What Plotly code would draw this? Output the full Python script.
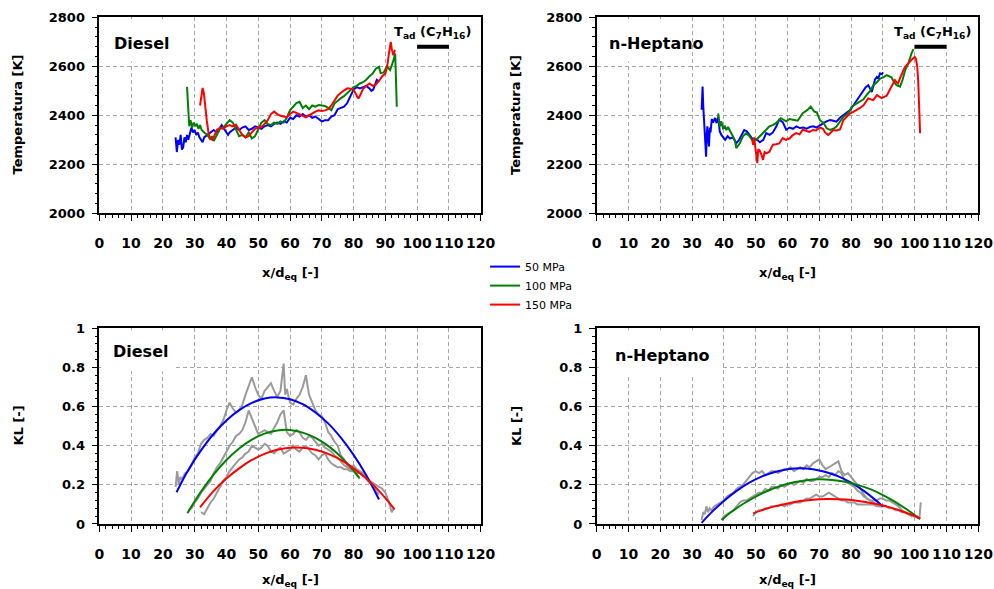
import plotly.graph_objects as go

# ---------------- Temperatura: Diesel ----------------
d50_x = [24.0, 24.4, 24.8, 25.2, 25.6, 26.0, 26.4, 26.8, 27.2, 27.6, 28.0, 28.5, 29.0, 29.5, 30.0, 30.5,
         31.0, 31.5, 32.0, 32.5, 33.0, 34.0, 35.0, 36.0, 37.0, 38.0, 38.5, 39.5, 40.5, 41.0, 42.0, 43.0,
         44.0, 45.0, 46.0, 47.0, 48.0, 49.0, 50.0, 51.0, 52.0, 53.0, 54.0, 55.0, 56.0, 57.0, 58.0, 59.0,
         60.0, 61.0, 62.0, 63.0, 64.0, 65.0, 66.0, 67.0, 68.0, 69.0, 70.0, 71.0, 72.0, 73.0, 74.0, 75.0,
         76.0, 77.0, 78.0, 79.0, 80.0, 81.0, 82.0, 83.0, 84.0, 85.0, 85.6, 86.2, 86.8, 87.3, 87.8]
d50_T = [2310, 2250, 2300, 2280, 2320, 2260, 2270, 2310, 2290, 2320, 2300, 2330, 2350, 2330, 2340, 2320,
         2330, 2310, 2300, 2290, 2310, 2320, 2330, 2340, 2330, 2350, 2360, 2340, 2320, 2330, 2340, 2350,
         2340, 2350, 2355, 2340, 2345, 2355, 2350, 2345, 2355, 2360, 2355, 2365, 2370, 2365, 2375, 2370,
         2390, 2385, 2400, 2395, 2405, 2395, 2400, 2390, 2395, 2385, 2375, 2380, 2380, 2395, 2400, 2425,
         2430, 2435, 2450, 2480, 2505, 2515, 2510, 2515, 2520, 2510, 2500, 2505, 2530, 2545, 2540]

d100_x = [27.6, 28.0, 28.3, 28.7, 29.2, 29.7, 30.2, 30.7, 31.2, 31.7, 32.2, 33.0, 34.0, 35.0, 35.5, 36.0,
          37.0, 38.0, 39.0, 40.0, 41.0, 42.0, 43.0, 44.0, 45.0, 46.0, 47.0, 48.0, 49.0, 50.0, 51.0, 52.0,
          53.0, 54.0, 55.0, 56.0, 57.0, 58.0, 59.0, 60.0, 61.0, 62.0, 63.0, 64.0, 65.0, 66.0, 67.0, 68.0,
          69.0, 70.0, 71.0, 72.0, 73.0, 74.0, 75.0, 76.0, 77.0, 78.0, 79.0, 80.0, 81.0, 82.0, 83.0, 84.0,
          85.0, 86.0, 87.0, 88.0, 88.5, 89.5, 90.5, 91.5, 92.5, 93.1, 93.6]
d100_T = [2516, 2400, 2355, 2380, 2350, 2370, 2355, 2365, 2345, 2360, 2340, 2330, 2320, 2300, 2315, 2295,
          2320, 2345, 2350, 2365, 2380, 2370, 2345, 2315, 2320, 2310, 2330, 2305, 2315, 2340, 2370, 2380,
          2365, 2360, 2370, 2365, 2375, 2370, 2390, 2420, 2435, 2450, 2455, 2430, 2440, 2425, 2440, 2435,
          2442, 2440, 2438, 2430, 2421, 2448, 2460, 2470, 2478, 2490, 2500, 2515, 2520, 2530, 2535, 2545,
          2560, 2570, 2590, 2598, 2572, 2575, 2600, 2585, 2622, 2652, 2435]

d150_x = [31.7, 32.2, 32.5, 32.9, 33.3, 33.8, 34.4, 35.0, 35.6, 36.2, 37.0, 38.0, 39.0, 40.0, 41.0, 42.0,
          43.0, 44.0, 45.0, 46.0, 47.0, 48.0, 49.0, 50.0, 51.0, 52.0, 53.0, 54.0, 55.0, 56.0, 57.0, 58.0,
          59.0, 60.0, 61.0, 62.0, 63.0, 64.0, 65.0, 66.0, 67.0, 68.0, 69.0, 70.0, 71.0, 72.0, 73.0, 74.0,
          75.0, 76.0, 77.0, 78.0, 79.0, 80.0, 81.0, 81.5, 82.0, 83.0, 84.0, 85.0, 86.0, 87.0, 88.0, 89.0,
          90.0, 90.6, 91.2, 91.7, 92.1, 92.5, 93.0]
d150_T = [2440, 2500, 2512, 2490, 2435, 2380, 2325, 2305, 2300, 2320, 2340, 2350, 2345, 2355, 2360, 2355,
          2362, 2340, 2320, 2310, 2315, 2330, 2345, 2350, 2352, 2365, 2380, 2405, 2415, 2405, 2398, 2395,
          2392, 2405, 2415, 2410, 2405, 2398, 2392, 2400, 2408, 2415, 2420, 2418, 2420, 2425, 2440, 2460,
          2480, 2492, 2500, 2510, 2508, 2505, 2480, 2468, 2480, 2508, 2520, 2530, 2520, 2525, 2540, 2560,
          2570, 2600, 2660, 2700, 2665, 2645, 2668]

# ---------------- Temperatura: n-Heptano ----------------
h50_x = [33.0, 33.3, 33.5, 33.7, 34.0, 34.4, 34.6, 34.8, 35.1, 35.3, 35.6, 35.8, 36.2, 36.6, 37.2, 37.7,
         38.2, 38.7, 39.2, 39.7, 40.4, 41.2, 41.9, 42.8, 43.9, 44.8, 45.6, 46.4, 47.2, 48.1, 49.2, 50.3,
         51.3, 52.4, 53.3, 54.4, 55.4, 56.5, 57.4, 58.5, 59.6, 60.6, 61.7, 62.8, 63.9, 65.0, 66.0, 67.0,
         68.1, 69.1, 70.2, 71.3, 72.3, 73.4, 74.4, 75.4, 76.5, 77.6, 78.6, 79.7, 80.7, 81.8, 82.8, 83.9,
         84.6, 85.4, 86.0, 86.5, 87.0, 87.5, 88.1, 88.6, 89.1, 89.6, 90.1]
h50_T = [2423, 2517, 2440, 2380, 2300, 2231, 2320, 2355, 2300, 2273, 2350, 2330, 2385, 2370, 2389, 2368,
         2395, 2334, 2320, 2310, 2300, 2315, 2305, 2310, 2286, 2300, 2320, 2340, 2335, 2318, 2300, 2302,
         2290, 2300, 2327, 2320, 2330, 2355, 2382, 2372, 2341, 2350, 2345, 2355, 2348, 2350, 2345, 2352,
         2355, 2350, 2360, 2368, 2375, 2381, 2378, 2374, 2390, 2401, 2410, 2421, 2440, 2462, 2480, 2503,
         2515, 2523, 2510, 2495, 2520, 2545, 2557, 2552, 2571, 2568, 2575]

h100_x = [38.2, 38.7, 39.2, 39.7, 40.3, 40.8, 41.3, 41.8, 42.3, 42.8, 43.4, 43.9, 44.5, 45.0, 46.0, 47.0,
          48.1, 49.2, 50.2, 51.3, 52.3, 53.3, 54.3, 55.4, 56.4, 57.9, 59.6, 60.6, 61.7, 63.2, 64.8, 66.3,
          67.3, 68.4, 69.2, 70.2, 71.3, 72.3, 73.4, 74.4, 75.4, 76.5, 77.6, 78.6, 79.7, 80.2, 81.3, 82.8,
          83.9, 84.9, 86.0, 87.0, 88.1, 89.1, 90.1, 91.2, 92.2, 92.7, 93.5, 94.3, 95.4, 96.2, 97.0, 98.0,
          99.0, 99.6]
h100_T = [2408, 2355, 2375, 2348, 2355, 2340, 2352, 2338, 2330, 2314, 2300, 2266, 2275, 2286, 2314, 2327,
          2314, 2293, 2300, 2314, 2325, 2341, 2355, 2360, 2368, 2388, 2375, 2385, 2382, 2378, 2409, 2422,
          2436, 2415, 2412, 2380, 2370, 2347, 2340, 2345, 2354, 2375, 2394, 2402, 2420, 2435, 2445, 2455,
          2465, 2483, 2500, 2523, 2535, 2550, 2555, 2564, 2560, 2555, 2535, 2523, 2517, 2545, 2585, 2612,
          2653, 2670]

h150_x = [48.9, 49.2, 49.5, 49.8, 50.2, 50.5, 50.8, 51.3, 51.8, 52.3, 52.8, 53.3, 54.3, 55.4, 56.4, 57.4,
          58.5, 59.5, 60.6, 61.6, 62.7, 63.8, 64.8, 65.9, 66.9, 68.0, 69.0, 70.2, 71.2, 71.8, 72.8, 73.4,
          74.4, 75.4, 76.5, 77.6, 78.6, 79.7, 80.7, 81.8, 82.8, 83.9, 84.6, 85.4, 86.2, 87.0, 88.1, 88.9,
          89.6, 90.4, 91.2, 92.0, 92.7, 93.3, 93.8, 94.3, 94.8, 95.4, 95.9, 96.5, 97.0, 97.7, 98.5, 99.1,
          99.6, 100.0, 100.4, 100.8, 101.1, 101.4, 101.7]
h150_T = [2300, 2280, 2310, 2273, 2232, 2205, 2262, 2255, 2240, 2218, 2250, 2245, 2250, 2280, 2282, 2285,
          2307, 2300, 2305, 2318, 2327, 2322, 2341, 2335, 2332, 2340, 2338, 2350, 2345, 2330, 2320, 2327,
          2340, 2338, 2342, 2381, 2395, 2408, 2414, 2421, 2430, 2441, 2452, 2469, 2465, 2462, 2482, 2476,
          2470, 2475, 2480, 2500, 2517, 2530, 2544, 2535, 2530, 2552, 2571, 2585, 2598, 2610, 2619, 2628,
          2632, 2638, 2630, 2598, 2540, 2450, 2327]

# Adiabatic flame temperature of C7H16
tad_x = [100, 110]
tad_T = [2680, 2680]

# ---------------- KL: Diesel (raw signals and fitted curves) ----------------
kd50_x = [24.0, 24.5, 25.0, 25.5, 26.0, 27.0, 28.0, 29.0, 30.0, 31.0, 32.0, 33.0, 34.0, 35.0, 36.0, 37.0,
          38.0, 39.0, 40.0, 41.0, 42.0, 43.0, 44.0, 45.0, 46.0, 47.0, 48.0, 49.0, 50.0, 51.0, 52.0, 53.0,
          54.0, 55.0, 56.0, 57.0, 58.0, 58.5, 59.0, 60.0, 61.0, 62.0, 63.0, 64.0, 65.0, 66.0, 67.0, 68.0,
          69.0, 70.0, 71.0, 72.0, 73.0, 74.0, 75.0, 76.0, 77.0, 78.0, 79.0, 80.0, 81.0, 82.0, 83.0, 84.0,
          85.0, 86.0, 87.0, 88.0]
kd50 = [0.19, 0.27, 0.20, 0.24, 0.23, 0.26, 0.27, 0.30, 0.34, 0.36, 0.41, 0.43, 0.44, 0.46, 0.45, 0.48,
        0.50, 0.53, 0.58, 0.62, 0.59, 0.57, 0.58, 0.61, 0.66, 0.70, 0.75, 0.70, 0.66, 0.64, 0.68, 0.70,
        0.72, 0.68, 0.65, 0.68, 0.82, 0.66, 0.69, 0.62, 0.61, 0.64, 0.66, 0.70, 0.76, 0.66, 0.62, 0.58,
        0.56, 0.55, 0.52, 0.47, 0.45, 0.42, 0.40, 0.35, 0.33, 0.30, 0.29, 0.30, 0.28, 0.27, 0.26, 0.23,
        0.21, 0.20, 0.17, 0.15]

kd100_x = [28, 29, 30, 31, 32, 33, 34, 35, 36, 37, 38, 39, 40, 41, 42, 43, 44, 45, 46, 47, 48, 49, 50, 51,
           52, 53, 54, 55, 56, 57, 58, 59, 60, 61, 62, 63, 64, 65, 66, 67, 68, 69, 70, 71, 72, 73, 74, 75,
           76, 77, 78, 79, 80, 81, 82]
kd100 = [0.07, 0.08, 0.11, 0.13, 0.16, 0.18, 0.20, 0.22, 0.26, 0.29, 0.31, 0.34, 0.37, 0.40, 0.42, 0.45,
         0.46, 0.48, 0.52, 0.58, 0.54, 0.50, 0.46, 0.47, 0.48, 0.47, 0.46, 0.49, 0.52, 0.56, 0.58, 0.47,
         0.45, 0.46, 0.48, 0.47, 0.44, 0.43, 0.45, 0.44, 0.42, 0.40, 0.41, 0.39, 0.38, 0.37, 0.35, 0.34,
         0.32, 0.30, 0.29, 0.28, 0.27, 0.25, 0.23]

kd150_x = [32, 33, 34, 35, 36, 37, 38, 39, 40, 41, 42, 43, 44, 45, 46, 47, 48, 49, 50, 51, 52, 53, 54, 55,
           56, 57, 58, 59, 60, 61, 62, 63, 64, 65, 66, 67, 68, 69, 70, 71, 72, 73, 74, 75, 76, 77, 78, 79,
           80, 81, 82, 83, 84, 85, 86, 87, 88, 89, 90, 91, 92, 92.7]
kd150 = [0.06, 0.05, 0.08, 0.11, 0.13, 0.16, 0.19, 0.22, 0.24, 0.27, 0.29, 0.31, 0.33, 0.34, 0.36, 0.37,
         0.40, 0.39, 0.38, 0.39, 0.41, 0.40, 0.37, 0.36, 0.38, 0.39, 0.36, 0.37, 0.38, 0.40, 0.38, 0.37,
         0.39, 0.40, 0.38, 0.36, 0.35, 0.33, 0.35, 0.36, 0.33, 0.31, 0.30, 0.29, 0.29, 0.28, 0.28, 0.27,
         0.27, 0.26, 0.26, 0.25, 0.24, 0.22, 0.21, 0.20, 0.19, 0.18, 0.16, 0.12, 0.06, 0.08]

fd50_x = [24.3, 28, 32, 36, 40, 44, 48, 52, 56, 60, 64, 68, 72, 76, 80, 84, 88]
fd50 = [0.162, 0.276, 0.376, 0.461, 0.529, 0.582, 0.619, 0.641, 0.647, 0.637, 0.612, 0.570, 0.514, 0.441,
        0.353, 0.249, 0.125]
fd100_x = [27.7, 32, 36, 40, 44, 48, 52, 56, 60, 64, 68, 72, 76, 80, 81.8]
fd100 = [0.055, 0.165, 0.253, 0.327, 0.386, 0.431, 0.462, 0.478, 0.480, 0.467, 0.440, 0.399, 0.343, 0.273,
         0.236]
fd150_x = [31.7, 36, 40, 44, 48, 52, 56, 60, 64, 68, 72, 76, 80, 84, 88, 92.9]
fd150 = [0.085, 0.169, 0.232, 0.284, 0.327, 0.358, 0.379, 0.390, 0.390, 0.379, 0.358, 0.327, 0.284, 0.232,
         0.169, 0.075]

# ---------------- KL: n-Heptano (raw signals and fitted curves) ----------------
kh50_x = [33, 33.5, 34, 34.5, 35, 35.5, 36, 37, 38, 39, 40, 41, 42, 43, 44, 45, 46, 47, 48, 49, 50, 51,
          52, 53, 54, 55, 56, 57, 58, 59, 60, 61, 62, 63, 64, 65, 66, 67, 68, 69, 70, 71, 72, 73, 74, 75,
          76, 77, 78, 79, 80, 81, 82, 83, 84, 85, 86, 87, 88, 89, 90]
kh50 = [0.02, 0.06, 0.05, 0.09, 0.06, 0.08, 0.07, 0.09, 0.10, 0.11, 0.12, 0.14, 0.15, 0.16, 0.18, 0.19,
        0.20, 0.22, 0.24, 0.26, 0.27, 0.26, 0.27, 0.25, 0.26, 0.27, 0.27, 0.26, 0.27, 0.28, 0.28, 0.29,
        0.27, 0.28, 0.29, 0.28, 0.30, 0.29, 0.31, 0.32, 0.33, 0.30, 0.28, 0.29, 0.30, 0.31, 0.32, 0.27,
        0.25, 0.26, 0.24, 0.22, 0.20, 0.18, 0.15, 0.13, 0.12, 0.11, 0.10, 0.09, 0.09]

kh100_x = [39.3, 40, 41, 42, 43, 44, 45, 46, 47, 48, 49, 50, 51, 52, 53, 54, 55, 56, 57, 58, 59, 60, 61,
           62, 63, 64, 65, 66, 67, 68, 69, 70, 71, 72, 73, 74, 75, 76, 77, 78, 79, 80, 81, 82, 83, 84, 85,
           86, 87, 88, 89, 90, 91, 92, 93, 94, 95, 96, 97, 98, 99, 100, 101]
kh100 = [0.02, 0.04, 0.05, 0.06, 0.07, 0.09, 0.11, 0.12, 0.12, 0.13, 0.14, 0.15, 0.16, 0.16, 0.18, 0.17,
         0.19, 0.19, 0.18, 0.20, 0.19, 0.20, 0.21, 0.20, 0.21, 0.22, 0.21, 0.23, 0.22, 0.22, 0.23, 0.24,
         0.24, 0.25, 0.24, 0.26, 0.25, 0.27, 0.26, 0.22, 0.21, 0.20, 0.19, 0.17, 0.16, 0.14, 0.13, 0.12,
         0.12, 0.12, 0.13, 0.13, 0.12, 0.12, 0.11, 0.10, 0.09, 0.07, 0.06, 0.05, 0.05, 0.04, 0.04]

kh150_x = [49.2, 50, 51, 52, 53, 54, 55, 56, 57, 58, 59, 60, 61, 62, 63, 64, 65, 66, 67, 68, 69, 70, 71,
           72, 73, 74, 75, 76, 77, 78, 79, 80, 81, 82, 83, 84, 85, 86, 87, 88, 89, 90, 91, 92, 93, 94, 95,
           96, 97, 98, 99, 100, 101, 101.5, 101.9]
kh150 = [0.04, 0.06, 0.07, 0.07, 0.08, 0.08, 0.09, 0.09, 0.09, 0.10, 0.09, 0.10, 0.10, 0.11, 0.11, 0.11,
         0.12, 0.13, 0.13, 0.14, 0.15, 0.14, 0.14, 0.15, 0.16, 0.15, 0.14, 0.13, 0.12, 0.12, 0.11, 0.11,
         0.11, 0.10, 0.10, 0.10, 0.10, 0.10, 0.10, 0.09, 0.09, 0.09, 0.09, 0.08, 0.08, 0.07, 0.07, 0.06,
         0.06, 0.05, 0.04, 0.04, 0.03, 0.03, 0.11]

fh50_x = [33, 36, 40, 44, 48, 52, 56, 60, 64, 68, 72, 76, 80, 84, 88, 90]
fh50 = [0.006, 0.058, 0.118, 0.169, 0.211, 0.243, 0.266, 0.280, 0.285, 0.280, 0.266, 0.243, 0.211, 0.169,
        0.118, 0.089]
fh100_x = [39.3, 42, 46, 50, 54, 58, 62, 66, 70, 74, 78, 82, 86, 90, 94, 98, 101.7]
fh100 = [0.020, 0.057, 0.102, 0.140, 0.171, 0.195, 0.213, 0.224, 0.228, 0.225, 0.216, 0.200, 0.178, 0.148,
         0.112, 0.069, 0.025]
fh150_x = [49.2, 52, 56, 60, 64, 68, 72, 76, 80, 84, 88, 92, 96, 100, 101.7]
fh150 = [0.054, 0.071, 0.090, 0.105, 0.117, 0.124, 0.128, 0.127, 0.123, 0.114, 0.102, 0.086, 0.065, 0.041,
         0.028]

series_names = ["50 MPa", "100 MPa", "150 MPa"]
x_ticks = list(range(0, 121, 10))

BLUE, GREEN, RED, GREY = "#0000ff", "#008000", "#ff0000", "#9a9a9a"
FONT = "DejaVu Sans"

fig = go.Figure()


def add_line(x, y, color, xa, ya, name=None, legend=False, width=2.0, shape="linear"):
    fig.add_trace(go.Scatter(
        x=x, y=y, mode="lines", name=name, showlegend=legend,
        line=dict(color=color, width=width, shape=shape),
        xaxis=xa, yaxis=ya, hoverinfo="skip"))


# top-left: Diesel temperature
add_line(d50_x, d50_T, BLUE, "x", "y", series_names[0], True)
add_line(d100_x, d100_T, GREEN, "x", "y", series_names[1], True)
add_line(d150_x, d150_T, RED, "x", "y", series_names[2], True)
add_line(tad_x, tad_T, "black", "x", "y", width=4)

# top-right: n-Heptano temperature
add_line(h50_x, h50_T, BLUE, "x2", "y2")
add_line(h100_x, h100_T, GREEN, "x2", "y2")
add_line(h150_x, h150_T, RED, "x2", "y2")
add_line(tad_x, tad_T, "black", "x2", "y2", width=4)

# bottom-left: Diesel KL
for kx, ky in [(kd50_x, kd50), (kd100_x, kd100), (kd150_x, kd150)]:
    add_line(kx, ky, GREY, "x3", "y3")
add_line(fd50_x, fd50, BLUE, "x3", "y3", shape="spline")
add_line(fd100_x, fd100, GREEN, "x3", "y3", shape="spline")
add_line(fd150_x, fd150, RED, "x3", "y3", shape="spline")

# bottom-right: n-Heptano KL
for kx, ky in [(kh50_x, kh50), (kh100_x, kh100), (kh150_x, kh150)]:
    add_line(kx, ky, GREY, "x4", "y4")
add_line(fh50_x, fh50, BLUE, "x4", "y4", shape="spline")
add_line(fh100_x, fh100, GREEN, "x4", "y4", shape="spline")
add_line(fh150_x, fh150, RED, "x4", "y4", shape="spline")

tick_font = dict(family=FONT, size=13, color="black", weight="bold")


def xaxis(domain, anchor):
    return dict(domain=domain, anchor=anchor, range=[0, 120], tickmode="array", tickvals=x_ticks,
                tickangle=0, automargin=False,
                ticks="outside", ticklen=6, tickwidth=1.2, tickcolor="black",
                minor=dict(dtick=2, ticks="outside", ticklen=3, tickwidth=1, tickcolor="black", showgrid=False),
                showgrid=True, gridcolor="#a8a8a8", gridwidth=1, griddash="4px,3px",
                showline=True, linecolor="black", linewidth=1.5, mirror=True, zeroline=False,
                tickfont=dict(family=FONT, size=14, color="black", weight="bold"),
                ticklabelstandoff=10, fixedrange=True)


def yaxis(domain, anchor, rng, dtick, minor):
    return dict(domain=domain, anchor=anchor, range=rng, dtick=dtick, tick0=rng[0],
                tickangle=0, automargin=False,
                ticks="outside", ticklen=6, tickwidth=1.2, tickcolor="black",
                minor=dict(dtick=minor, ticks="outside", ticklen=3, tickwidth=1, tickcolor="black", showgrid=False),
                showgrid=True, gridcolor="#a8a8a8", gridwidth=1, griddash="4px,3px",
                showline=True, linecolor="black", linewidth=1.5, mirror=True, zeroline=False,
                tickfont=tick_font, ticklabelstandoff=4, fixedrange=True)


XL, XR = [0.0999, 0.4836], [0.6003, 0.9842]
YT, YB = [0.6379, 0.9706], [0.1104, 0.4426]

fig.update_layout(
    width=994, height=589, autosize=False,
    margin=dict(l=0, r=0, t=0, b=0, autoexpand=False),
    paper_bgcolor="white", plot_bgcolor="white",
    font=dict(family=FONT, color="black"),
    xaxis=xaxis(XL, "y"), yaxis=yaxis(YT, "x", [2000, 2800], 200, 40),
    xaxis2=xaxis(XR, "y2"), yaxis2=yaxis(YT, "x2", [2000, 2800], 200, 40),
    xaxis3=xaxis(XL, "y3"), yaxis3=yaxis(YB, "x3", [0, 1], 0.2, 0.04),
    xaxis4=xaxis(XR, "y4"), yaxis4=yaxis(YB, "x4", [0, 1], 0.2, 0.04),
    legend=dict(x=0.488, y=0.572, xanchor="left", yanchor="top", bgcolor="rgba(0,0,0,0)",
                font=dict(family=FONT, size=11, color="black"), tracegroupgap=0, itemwidth=30),
    showlegend=True,
)

# white panels behind the panel titles
for xa, ya, x1, y0, y1 in [("x", "y", 28, 2620, 2792), ("x2", "y2", 29, 2620, 2792),
                           ("x3", "y3", 24, 0.78, 0.99), ("x4", "y4", 39, 0.765, 0.99)]:
    fig.add_shape(type="rect", xref=xa, yref=ya, x0=0.6, x1=x1, y0=y0, y1=y1,
                  fillcolor="white", line=dict(width=0), layer="above")

title_font = dict(family=FONT, size=16, color="black", weight="bold")
label_font = dict(family=FONT, size=13, color="black", weight="bold")

annotations = [
    dict(text="Diesel", x=141 / 994, y=1 - 43 / 589, font=title_font),
    dict(text="Diesel", x=140 / 994, y=1 - 351 / 589, font=title_font),
    dict(text="n-Heptano", x=656 / 994, y=1 - 43 / 589, font=title_font),
    dict(text="n-Heptano", x=662 / 994, y=1 - 355 / 589, font=title_font),
    dict(text="T<sub>ad</sub> (C<sub>7</sub>H<sub>16</sub>)", x=432 / 994, y=1 - 33 / 589, font=label_font,
         bgcolor="white"),
    dict(text="T<sub>ad</sub> (C<sub>7</sub>H<sub>16</sub>)", x=932 / 994, y=1 - 33 / 589, font=label_font,
         bgcolor="white"),
    dict(text="Temperatura [K]", x=17.5 / 994, y=1 - 115 / 589, textangle=-90, font=label_font),
    dict(text="Temperatura [K]", x=516 / 994, y=1 - 115 / 589, textangle=-90, font=label_font),
    dict(text="KL [-]", x=17.5 / 994, y=1 - 426 / 589, textangle=-90, font=label_font),
    dict(text="KL [-]", x=516 / 994, y=1 - 426 / 589, textangle=-90, font=label_font),
    dict(text="x/d<sub>eq</sub> [-]", x=290 / 994, y=1 - 273 / 589, font=label_font),
    dict(text="x/d<sub>eq</sub> [-]", x=787 / 994, y=1 - 273 / 589, font=label_font),
    dict(text="x/d<sub>eq</sub> [-]", x=290 / 994, y=1 - 580 / 589, font=label_font),
    dict(text="x/d<sub>eq</sub> [-]", x=787 / 994, y=1 - 580 / 589, font=label_font),
]
for a in annotations:
    a.update(xref="paper", yref="paper", xanchor="center", yanchor="middle", showarrow=False, borderpad=1)
    fig.add_annotation(**a)

fig.write_html("out.html")
